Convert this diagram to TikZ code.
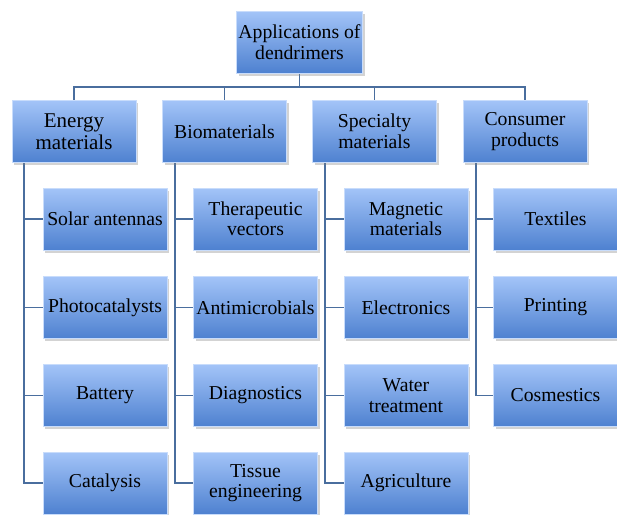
\documentclass[tikz,border=0pt]{standalone}
\usepackage{fontspec}
\setmainfont{Liberation Serif}
\usetikzlibrary{shadows,backgrounds}
\definecolor{boxtop}{RGB}{163,196,248}
\definecolor{boxbot}{RGB}{78,129,208}
\definecolor{wire}{RGB}{74,110,158}
\tikzset{
  card/.style={minimum width=124pt, minimum height=62pt, align=center,
    top color=boxtop, bottom color=boxbot, draw=boxtop!60!white, line width=0.4pt,
    inner sep=2pt, font=\fontsize{19.7}{20.5}\selectfont,
    drop shadow={opacity=0.35, shadow xshift=2pt, shadow yshift=-2.5pt}},
  headcard/.style={card, font=\fontsize{21}{21.5}\selectfont},
  wireline/.style={draw=wire, line width=1.6pt}
}
\begin{document}
\begin{tikzpicture}[x=1pt,y=-1pt]
\useasboundingbox (0,0) rectangle (617,514);

% root
\node[card, minimum width=125pt] (root) at (299.5,42) {Applications of\\dendrimers};

% categories
\node[headcard] (c1) at (74,131.5) {Energy\\materials};
\node[card] (c2) at (224.5,131.5) {Biomaterials};
\node[card] (c3) at (374.5,131.5) {Specialty\\materials};
\node[card] (c4) at (525,131.5) {Consumer\\products};

% leaves
\node[card] (a1) at (105,219) {Solar antennas};
\node[card] (a2) at (105,307.5) {Photocatalysts};
\node[card] (a3) at (105,395.5) {Battery};
\node[card] (a4) at (105,483) {Catalysis};

\node[card] (b1) at (255.5,219) {Therapeutic\\vectors};
\node[card] (b2) at (255.5,307.5) {Antimicrobials};
\node[card] (b3) at (255.5,395.5) {Diagnostics};
\node[card] (b4) at (255.5,483) {Tissue\\engineering};

\node[card] (s1) at (406,219) {Magnetic\\materials};
\node[card] (s2) at (406,307.5) {Electronics};
\node[card] (s3) at (406,395.5) {Water\\treatment};
\node[card] (s4) at (406,483) {Agriculture};

\node[card] (p1) at (555.5,219) {Textiles};
\node[card] (p2) at (555.5,307.5) {Printing};
\node[card] (p3) at (555.5,395.5) {Cosmestics};

% connectors, kept behind the cards
\begin{scope}[on background layer]
\coordinate (bus) at (0,87);
\draw[wireline] (root.south) -- (root.south |- bus);
\draw[wireline] (c1.north) -- (c1.north |- bus) -- (c4.north |- bus) -- (c4.north);
\draw[wireline] (c2.north) -- (c2.north |- bus);
\draw[wireline] (c3.north) -- (c3.north |- bus);

\foreach \p/\x/\last/\kids in {c1/24/a4/{a1,a2,a3,a4}, c2/175/b4/{b1,b2,b3,b4}, c3/325/s4/{s1,s2,s3,s4}, c4/476/p3/{p1,p2,p3}}{
  \coordinate (stem-\p) at (\x,0);
  \draw[wireline] (stem-\p |- \p.south) -- (stem-\p |- \last.west) -- (\last.west);
  \foreach \k in \kids {
    \draw[wireline] (stem-\p |- \k.west) -- (\k.west);
  }
}
\end{scope}
\end{tikzpicture}
\end{document}
